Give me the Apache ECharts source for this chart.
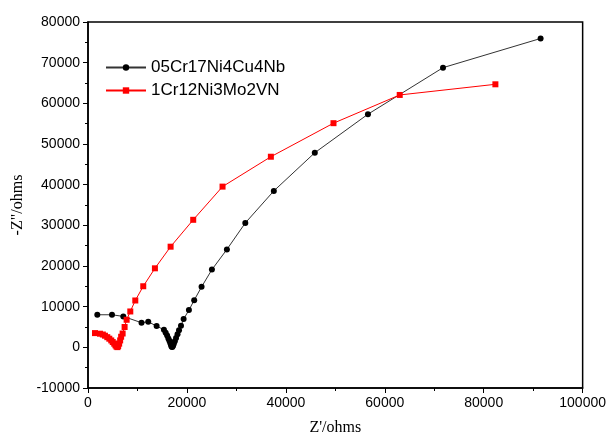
<!DOCTYPE html>
<html>
<head>
<meta charset="utf-8">
<script src="https://cdn.jsdelivr.net/npm/echarts@6/dist/echarts.min.js"></script>
<style>html,body{margin:0;padding:0;background:#fff}#c{width:609px;height:441px}</style>
</head>
<body>
<div id="c"></div>
<script>
var seriesNames = ['05Cr17Ni4Cu4Nb', '1Cr12Ni3Mo2VN'];
var blackData = [
  [1880,8010],[4850,8010],[7140,7600],[10820,6050],[12180,6290],[13870,5220],[15350,4330],
  [15700,3600],[16000,2900],[16250,2200],[16450,1600],[16650,1000],[16800,500],[16900,150],
  [17050,100],[17200,400],[17350,900],[17550,1500],[17800,2300],[18100,3200],[18400,4200],
  [18800,5300],[19330,6940],[20400,9150],[21470,11590],[22960,14870],[25050,19110],
  [28080,24080],[31800,30580],[37570,38465],[45850,47850],[56600,57330],[71770,68770],[91500,75950]
];
var redData = [
  [1410,3500],[2420,3350],[3000,3150],[3430,2860],[3900,2500],[4310,2125],[4700,1700],
  [5000,1300],[5300,900],[5550,500],[5750,200],[5950,50],[6100,300],[6300,900],[6500,1700],
  [6700,2600],[7000,3400],[7400,5000],[7810,6780],[8550,8820],[9560,11520],[11170,15020],
  [13530,19430],[16700,24750],[21270,31360],[27200,39520],[36970,46870],[49630,55120],
  [63020,62060],[82360,64680]
];
var xTitle = "Z'/ohms";
var yTitle = '-Z"/ohms';

var chart = echarts.init(document.getElementById('c'), null, {renderer: 'canvas'});
var axisCommon = {
  axisLine: {show: true, onZero: false, lineStyle: {color: '#000', width: 1.5}},
  axisTick: {show: true, inside: false, length: 5, lineStyle: {color: '#000'}},
  minorTick: {show: true, splitNumber: 2, length: 3, lineStyle: {color: '#000'}},
  splitLine: {show: false},
  axisLabel: {color: '#000', fontFamily: 'Liberation Sans', fontSize: 14,
    formatter: function (v) { return String(v); }},
  nameLocation: 'middle',
  nameTextStyle: {color: '#000', fontFamily: 'Liberation Serif', fontSize: 16}
};
chart.setOption({
  animation: false,
  backgroundColor: '#fff',
  grid: {left: 88, right: 25, top: 22, bottom: 52, show: true, borderColor: '#000', borderWidth: 1.5},
  legend: {
    left: 100, top: 54, orient: 'vertical', itemWidth: 40, itemHeight: 8, itemGap: 6,
    textStyle: {fontFamily: 'Liberation Sans', fontSize: 17, color: '#000'},
    data: seriesNames
  },
  xAxis: Object.assign({}, axisCommon, {
    type: 'value', min: 0, max: 100000, interval: 20000,
    name: xTitle, nameGap: 32
  }),
  yAxis: Object.assign({}, axisCommon, {
    type: 'value', min: -10000, max: 80000, interval: 10000,
    name: yTitle, nameGap: 62
  }),
  series: [
    {
      name: seriesNames[0], type: 'line', data: blackData,
      symbol: 'circle', symbolSize: 6,
      itemStyle: {color: '#000'},
      lineStyle: {color: '#333', width: 1}
    },
    {
      name: seriesNames[1], type: 'line', data: redData,
      symbol: 'rect', symbolSize: 6,
      itemStyle: {color: '#f00'},
      lineStyle: {color: '#f00', width: 1}
    }
  ]
});
</script>
</body>
</html>
